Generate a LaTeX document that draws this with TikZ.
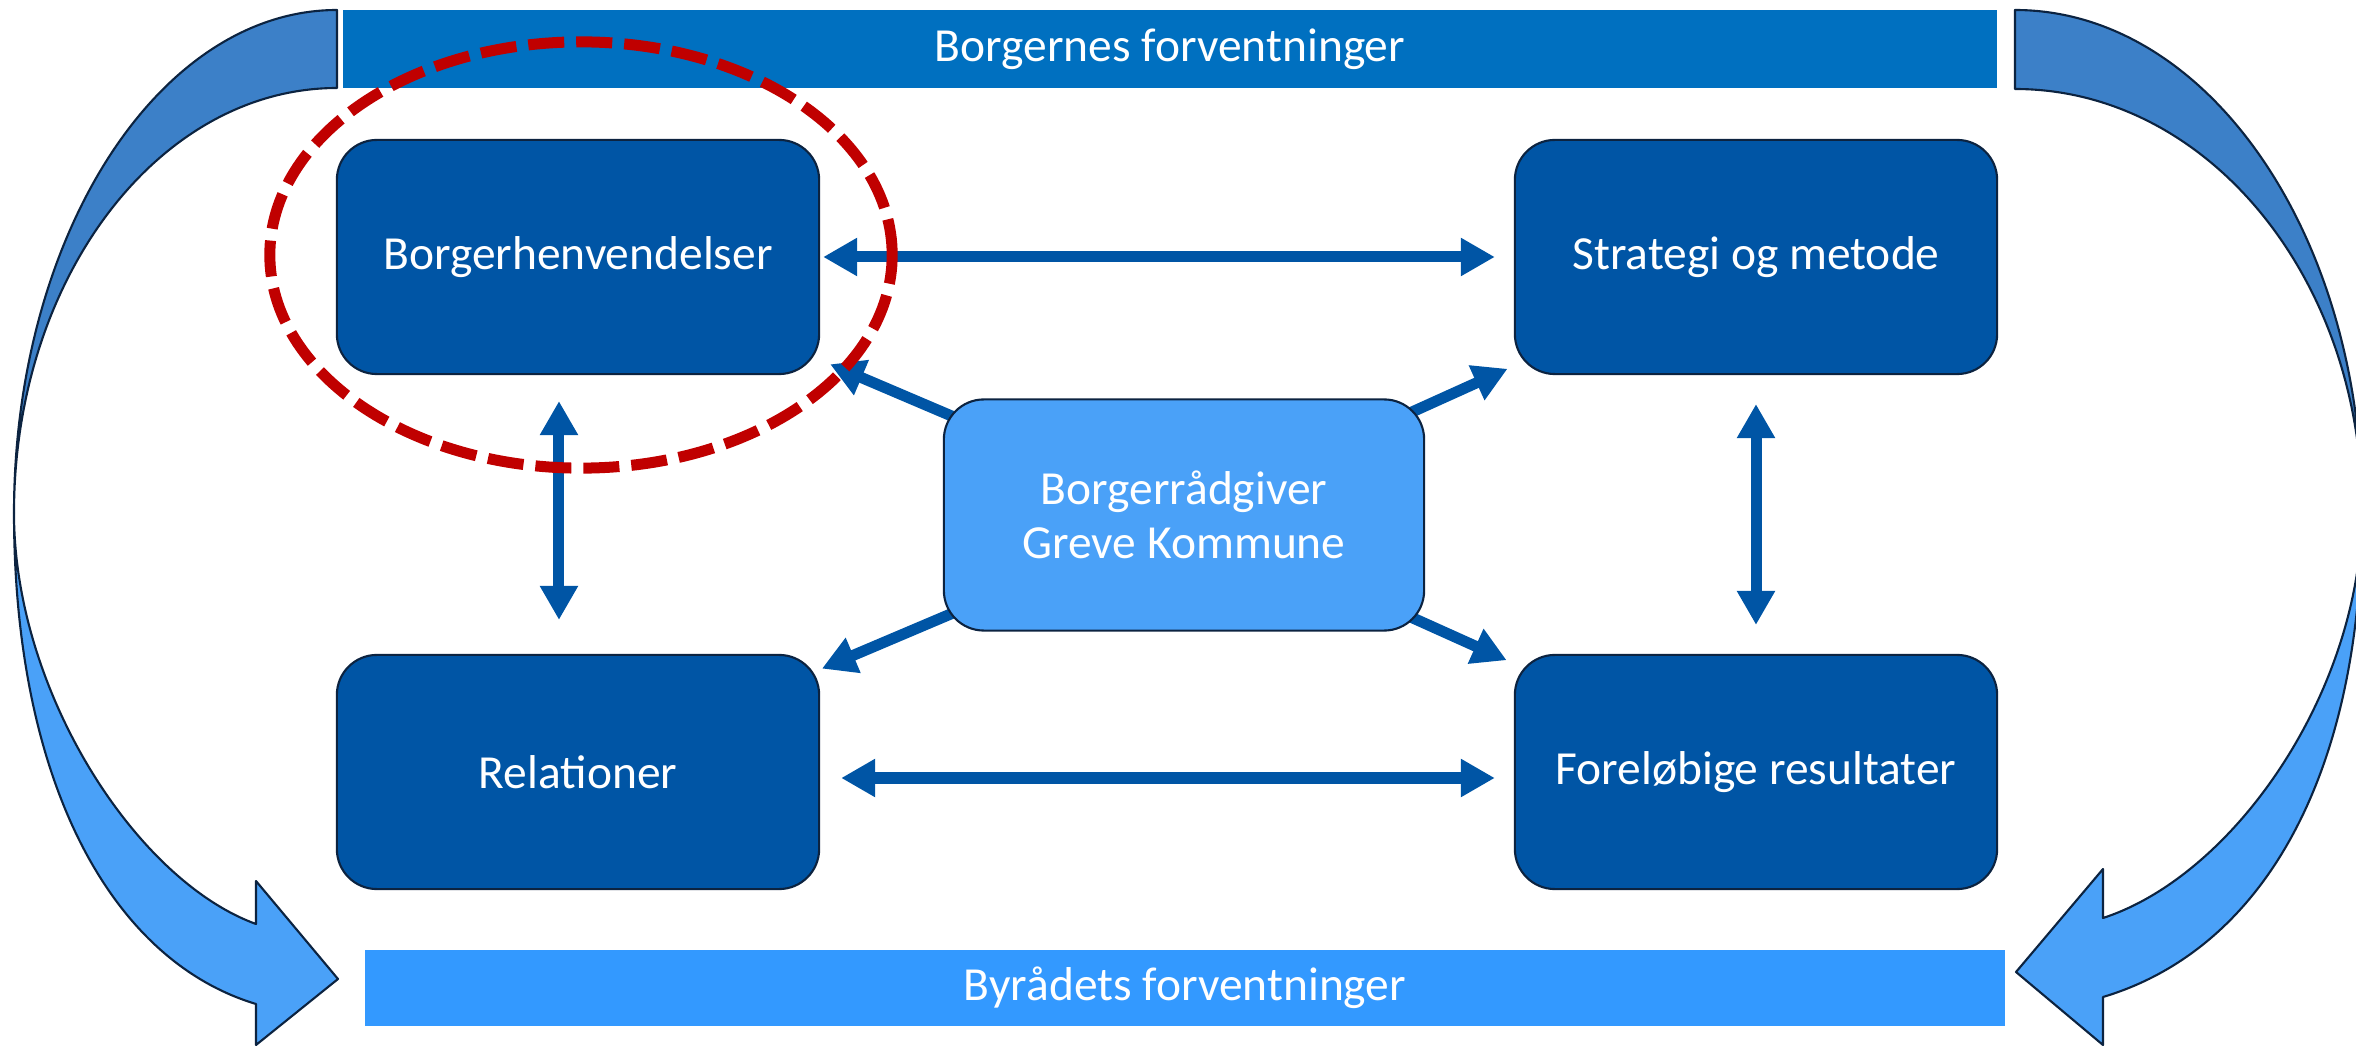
\documentclass[tikz,border=0pt]{standalone}
\usepackage{fontspec}
\setmainfont{Carlito}
\usetikzlibrary{arrows.meta,backgrounds}
\definecolor{boxblue}{RGB}{0,85,165}
\definecolor{barblue}{RGB}{0,112,192}
\definecolor{barlight}{RGB}{51,153,255}
\definecolor{midblue}{RGB}{74,161,248}
\definecolor{ribbondark}{RGB}{60,128,200}
\definecolor{edgenavy}{RGB}{12,35,64}
\definecolor{ringred}{RGB}{192,0,0}
\tikzset{
  labelfont/.style={font=\fontsize{13.5pt}{15.4pt}\selectfont},
  boxnode/.style={draw=edgenavy, line width=0.6pt, fill=boxblue, rounded corners=0.4cm,
    minimum width=4.82cm, minimum height=2.34cm, inner sep=0pt, outer sep=0pt,
    text=white, labelfont},
  barnode/.style={inner sep=0pt, outer sep=0pt, text=white, labelfont},
  link/.style={boxblue, line width=0.11cm,
    {Triangle[length=0.34cm,width=0.36cm]}-{Triangle[length=0.34cm,width=0.36cm]}},
  spoke/.style={boxblue, line width=0.11cm, -{Triangle[length=0.34cm,width=0.36cm]}},
  ribbon/.style={draw=edgenavy, line width=0.6pt, line join=round}
}
\begin{document}
\begin{tikzpicture}[x=0.01cm, y=-0.01cm]
  \useasboundingbox (0,0) rectangle (2356,1046);
  \filldraw[ribbon, fill=ribbondark] (337,10) .. controls (159,10) and (14,235) .. (14,513)
    .. controls (14,278) and (159,88) .. (337,88) -- cycle;
  \filldraw[ribbon, fill=midblue] (14,513) .. controls (14,780) and (110,960) .. (256,1004)
    -- (256,1045) -- (338,979) -- (256,881) -- (256,924)
    .. controls (135,880) and (14,690) .. (14,513) -- cycle;
  \filldraw[ribbon, fill=ribbondark] (2015,10) .. controls (2207,10) and (2362,234) .. (2362,510)
    .. controls (2362,278) and (2207,89) .. (2015,89) -- cycle;
  \filldraw[ribbon, fill=midblue] (2362,510) .. controls (2362,780) and (2260,950) .. (2103,997)
    -- (2103,1045) -- (2016,972) -- (2103,869) -- (2103,918)
    .. controls (2235,875) and (2362,690) .. (2362,510) -- cycle;
  \node[barnode, fill=barblue, minimum width=16.54cm, minimum height=0.78cm] (bf) at (1170,49) {Borgernes forventninger};
  \node[barnode, fill=barlight, minimum width=16.39cm, minimum height=0.76cm] (byf) at (1185,988) {Byrådets forventninger};
  \node[boxnode] (bh) at (578,257) {Borgerhenvendelser};
  \node[boxnode] (sm) at (1756,257) {Strategi og metode};
  \node[boxnode] (rel) at (578,772) {Relationer};
  \node[boxnode] (fr) at (1756,772) {Foreløbige resultater};
  \node[boxnode, fill=midblue, minimum width=4.8cm, minimum height=2.31cm, align=center] (cb) at (1184,515) {Borgerrådgiver\\Greve Kommune};
  \begin{scope}[on background layer]
    \draw[spoke, shorten >=0.12cm] (cb.center) -- (bh);
    \draw[spoke, shorten >=0.08cm] (cb.center) -- (sm);
    \draw[spoke, shorten >=0.03cm] (cb.center) -- (rel);
    \draw[spoke, shorten >=0.09cm] (cb.center) -- (fr);
  \end{scope}
  \draw[link, shorten <=0.04cm, shorten >=0.2cm] (bh.east) -- (sm.west);
  \draw[link, shorten <=0.22cm, shorten >=0.2cm] ([yshift=-0.06cm]rel.east) -- ([yshift=-0.06cm]fr.west);
  \draw[link, shorten <=0.27cm, shorten >=0.35cm] ([xshift=-0.19cm]bh.south) -- ([xshift=-0.19cm]rel.north);
  \draw[link, shorten <=0.3cm, shorten >=0.3cm] (sm.south) -- (fr.north);
  \draw[ringred, line width=0.11cm, dash pattern=on 0.36cm off 0.12cm] (581,255) ellipse [x radius=3.11cm, y radius=2.13cm];
\end{tikzpicture}
\end{document}
